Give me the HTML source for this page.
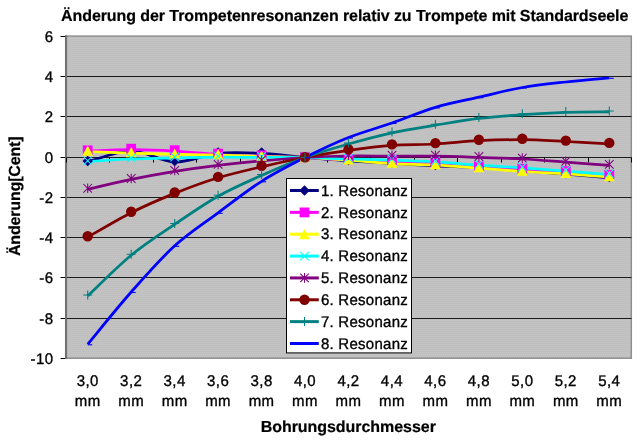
<!DOCTYPE html>
<html lang="de"><head><meta charset="utf-8"><title>Änderung der Trompetenresonanzen</title>
<style>
html,body{margin:0;padding:0;background:#fff;}
body{width:643px;height:440px;overflow:hidden;}
svg{display:block;}
text{font-family:"Liberation Sans",Arial,sans-serif;fill:#000;text-rendering:geometricPrecision;}
.t{font-size:15.4px;stroke:#000;stroke-width:0.35px;letter-spacing:0.45px;}
.b{font-size:16px;font-weight:bold;stroke:#000;stroke-width:0.2px;}
</style></head><body>
<svg width="643" height="440" viewBox="0 0 643 440">
<defs><pattern id="dz" width="2" height="4" patternUnits="userSpaceOnUse"><rect width="2" height="4" fill="#bfbfbf"/><rect x="0" y="0" width="1" height="1" fill="#c6c6c6"/><rect x="1" y="2" width="1" height="1" fill="#c6c6c6"/></pattern></defs>
<rect width="643" height="440" fill="#fff"/>
<rect x="65.7" y="36.1" width="565.6" height="322.1" fill="url(#dz)" stroke="#8e8e8e" stroke-width="1.5"/>
<line x1="60.5" y1="358.5" x2="66" y2="358.5" stroke="#000" stroke-width="1"/>
<text transform="translate(53.60,363.80) scale(0.975,1)" text-anchor="end" class="t">-10</text>
<line x1="66" y1="318.5" x2="631.5" y2="318.5" stroke="#1c1c1c" stroke-width="1"/>
<line x1="60.5" y1="318.5" x2="66" y2="318.5" stroke="#000" stroke-width="1"/>
<text transform="translate(53.60,323.80) scale(0.975,1)" text-anchor="end" class="t">-8</text>
<line x1="66" y1="277.5" x2="631.5" y2="277.5" stroke="#1c1c1c" stroke-width="1"/>
<line x1="60.5" y1="277.5" x2="66" y2="277.5" stroke="#000" stroke-width="1"/>
<text transform="translate(53.60,282.80) scale(0.975,1)" text-anchor="end" class="t">-6</text>
<line x1="66" y1="237.5" x2="631.5" y2="237.5" stroke="#1c1c1c" stroke-width="1"/>
<line x1="60.5" y1="237.5" x2="66" y2="237.5" stroke="#000" stroke-width="1"/>
<text transform="translate(53.60,242.80) scale(0.975,1)" text-anchor="end" class="t">-4</text>
<line x1="66" y1="197.5" x2="631.5" y2="197.5" stroke="#1c1c1c" stroke-width="1"/>
<line x1="60.5" y1="197.5" x2="66" y2="197.5" stroke="#000" stroke-width="1"/>
<text transform="translate(53.60,202.80) scale(0.975,1)" text-anchor="end" class="t">-2</text>
<line x1="66" y1="157.5" x2="631.5" y2="157.5" stroke="#1c1c1c" stroke-width="1"/>
<line x1="60.5" y1="157.5" x2="66" y2="157.5" stroke="#000" stroke-width="1"/>
<text transform="translate(53.60,162.80) scale(0.975,1)" text-anchor="end" class="t">0</text>
<line x1="66" y1="116.5" x2="631.5" y2="116.5" stroke="#1c1c1c" stroke-width="1"/>
<line x1="60.5" y1="116.5" x2="66" y2="116.5" stroke="#000" stroke-width="1"/>
<text transform="translate(53.60,121.80) scale(0.975,1)" text-anchor="end" class="t">2</text>
<line x1="66" y1="76.5" x2="631.5" y2="76.5" stroke="#1c1c1c" stroke-width="1"/>
<line x1="60.5" y1="76.5" x2="66" y2="76.5" stroke="#000" stroke-width="1"/>
<text transform="translate(53.60,81.80) scale(0.975,1)" text-anchor="end" class="t">4</text>
<line x1="60.5" y1="36.5" x2="66" y2="36.5" stroke="#000" stroke-width="1"/>
<text transform="translate(53.60,41.80) scale(0.975,1)" text-anchor="end" class="t">6</text>
<line x1="66.1" y1="35.3" x2="66.1" y2="358.9" stroke="#707070" stroke-width="2"/>
<line x1="66.5" y1="157.5" x2="66.5" y2="162.5" stroke="#000" stroke-width="1"/>
<line x1="109.5" y1="157.5" x2="109.5" y2="162.5" stroke="#000" stroke-width="1"/>
<line x1="153.5" y1="157.5" x2="153.5" y2="162.5" stroke="#000" stroke-width="1"/>
<line x1="196.5" y1="157.5" x2="196.5" y2="162.5" stroke="#000" stroke-width="1"/>
<line x1="240.5" y1="157.5" x2="240.5" y2="162.5" stroke="#000" stroke-width="1"/>
<line x1="283.5" y1="157.5" x2="283.5" y2="162.5" stroke="#000" stroke-width="1"/>
<line x1="327.5" y1="157.5" x2="327.5" y2="162.5" stroke="#000" stroke-width="1"/>
<line x1="370.5" y1="157.5" x2="370.5" y2="162.5" stroke="#000" stroke-width="1"/>
<line x1="414.5" y1="157.5" x2="414.5" y2="162.5" stroke="#000" stroke-width="1"/>
<line x1="457.5" y1="157.5" x2="457.5" y2="162.5" stroke="#000" stroke-width="1"/>
<line x1="501.5" y1="157.5" x2="501.5" y2="162.5" stroke="#000" stroke-width="1"/>
<line x1="544.5" y1="157.5" x2="544.5" y2="162.5" stroke="#000" stroke-width="1"/>
<line x1="588.5" y1="157.5" x2="588.5" y2="162.5" stroke="#000" stroke-width="1"/>
<line x1="631.5" y1="157.5" x2="631.5" y2="162.5" stroke="#000" stroke-width="1"/>
<path d="M87.7,161.9 C95.0,160.1 116.7,150.8 131.2,150.8 C145.7,150.8 160.2,161.5 174.7,161.9 C189.1,162.3 203.6,154.8 218.1,153.4 C232.6,152.0 247.1,152.7 261.6,153.4 C276.1,154.1 290.6,156.2 305.0,157.5 C319.5,158.8 334.0,159.9 348.5,160.9 C363.0,161.9 377.5,162.7 392.0,163.5 C406.4,164.3 420.9,165.2 435.4,165.9 C449.9,166.6 464.4,166.9 478.9,167.7 C493.4,168.5 507.9,169.8 522.3,170.9 C536.8,172.0 551.3,172.9 565.8,174.1 C580.3,175.3 602.0,177.3 609.3,177.9" fill="none" stroke="#000080" stroke-width="2.75" stroke-linejoin="round"/>
<path d="M87.7,151.2 C95.0,150.9 116.7,149.7 131.2,149.7 C145.7,149.6 160.2,150.3 174.7,151.2 C189.1,152.0 203.6,153.6 218.1,154.5 C232.6,155.4 247.1,155.8 261.6,156.3 C276.1,156.8 290.6,156.9 305.0,157.5 C319.5,158.1 334.0,159.5 348.5,160.1 C363.0,160.7 377.5,160.5 392.0,161.1 C406.4,161.7 420.9,162.4 435.4,163.4 C449.9,164.4 464.4,166.3 478.9,167.3 C493.4,168.3 507.9,168.7 522.3,169.5 C536.8,170.3 551.3,171.0 565.8,172.0 C580.3,173.0 602.0,175.1 609.3,175.7" fill="none" stroke="#ff00ff" stroke-width="2.75" stroke-linejoin="round"/>
<path d="M87.7,151.5 C95.0,151.8 116.7,152.6 131.2,153.1 C145.7,153.6 160.2,154.1 174.7,154.4 C189.1,154.7 203.6,154.8 218.1,155.1 C232.6,155.4 247.1,156.1 261.6,156.5 C276.1,156.9 290.6,156.9 305.0,157.5 C319.5,158.1 334.0,159.2 348.5,160.2 C363.0,161.2 377.5,162.8 392.0,163.6 C406.4,164.4 420.9,164.3 435.4,165.1 C449.9,165.8 464.4,167.0 478.9,168.1 C493.4,169.2 507.9,170.5 522.3,171.5 C536.8,172.5 551.3,173.0 565.8,173.9 C580.3,174.8 602.0,176.6 609.3,177.1" fill="none" stroke="#ffff00" stroke-width="2.75" stroke-linejoin="round"/>
<path d="M87.7,161.7 C95.0,161.2 116.7,159.6 131.2,159.0 C145.7,158.4 160.2,158.2 174.7,157.9 C189.1,157.6 203.6,157.2 218.1,157.1 C232.6,157.0 247.1,157.3 261.6,157.4 C276.1,157.5 290.6,157.2 305.0,157.5 C319.5,157.8 334.0,158.6 348.5,159.0 C363.0,159.4 377.5,159.6 392.0,160.1 C406.4,160.6 420.9,161.1 435.4,161.9 C449.9,162.7 464.4,164.1 478.9,165.1 C493.4,166.1 507.9,166.9 522.3,167.9 C536.8,168.9 551.3,170.0 565.8,171.1 C580.3,172.2 602.0,174.0 609.3,174.6" fill="none" stroke="#00ffff" stroke-width="2.75" stroke-linejoin="round"/>
<path d="M87.7,189.2 C95.0,187.6 116.7,182.4 131.2,179.4 C145.7,176.4 160.2,173.7 174.7,171.3 C189.1,169.0 203.6,167.0 218.1,165.3 C232.6,163.6 247.1,162.2 261.6,160.9 C276.1,159.6 290.6,158.3 305.0,157.5 C319.5,156.7 334.0,156.2 348.5,156.0 C363.0,155.8 377.5,156.1 392.0,156.1 C406.4,156.1 420.9,155.9 435.4,156.1 C449.9,156.3 464.4,156.9 478.9,157.4 C493.4,157.9 507.9,158.2 522.3,159.0 C536.8,159.8 551.3,161.1 565.8,162.2 C580.3,163.2 602.0,164.8 609.3,165.3" fill="none" stroke="#800080" stroke-width="2.75" stroke-linejoin="round"/>
<path d="M87.7,237.2 C95.0,233.1 116.7,219.9 131.2,212.7 C145.7,205.4 160.2,199.2 174.7,193.4 C189.1,187.6 203.6,182.2 218.1,177.8 C232.6,173.4 247.1,170.2 261.6,166.8 C276.1,163.4 290.6,160.2 305.0,157.5 C319.5,154.8 334.0,152.3 348.5,150.3 C363.0,148.3 377.5,146.4 392.0,145.3 C406.4,144.2 420.9,144.8 435.4,144.0 C449.9,143.2 464.4,141.4 478.9,140.7 C493.4,140.0 507.9,139.6 522.3,139.7 C536.8,139.8 551.3,140.8 565.8,141.5 C580.3,142.2 602.0,143.4 609.3,143.8" fill="none" stroke="#800000" stroke-width="2.75" stroke-linejoin="round"/>
<path d="M87.7,295.9 C95.0,289.1 116.7,267.1 131.2,255.2 C145.7,243.3 160.2,234.1 174.7,224.3 C189.1,214.5 203.6,204.4 218.1,196.2 C232.6,188.1 247.1,181.9 261.6,175.4 C276.1,168.9 290.6,162.7 305.0,157.5 C319.5,152.3 334.0,148.1 348.5,144.0 C363.0,139.9 377.5,135.9 392.0,132.8 C406.4,129.7 420.9,127.6 435.4,125.2 C449.9,122.8 464.4,120.2 478.9,118.4 C493.4,116.6 507.9,115.7 522.3,114.7 C536.8,113.7 551.3,112.9 565.8,112.4 C580.3,111.9 602.0,112.0 609.3,111.9" fill="none" stroke="#008080" stroke-width="2.75" stroke-linejoin="round"/>
<path d="M87.7,344.2 C95.0,335.5 116.7,308.4 131.2,292.0 C145.7,275.6 160.2,259.0 174.7,245.8 C189.1,232.6 203.6,223.6 218.1,212.8 C232.6,202.1 247.1,190.5 261.6,181.3 C276.1,172.1 290.6,164.8 305.0,157.5 C319.5,150.2 334.0,143.2 348.5,137.5 C363.0,131.8 377.5,128.0 392.0,123.0 C406.4,118.0 420.9,111.7 435.4,107.4 C449.9,103.1 464.4,100.5 478.9,97.2 C493.4,93.9 507.9,90.0 522.3,87.5 C536.8,85.0 551.3,83.6 565.8,82.0 C580.3,80.4 602.0,78.5 609.3,77.8" fill="none" stroke="#0000ff" stroke-width="2.75" stroke-linejoin="round"/>
<path d="M82.5,161.0 L87.7,155.8 L92.9,161.0 L87.7,166.2Z" fill="#000080"/>
<path d="M126.0,149.9 L131.2,144.7 L136.4,149.9 L131.2,155.1Z" fill="#000080"/>
<path d="M169.5,161.0 L174.7,155.8 L179.9,161.0 L174.7,166.2Z" fill="#000080"/>
<path d="M212.9,152.5 L218.1,147.3 L223.3,152.5 L218.1,157.7Z" fill="#000080"/>
<path d="M256.4,152.5 L261.6,147.3 L266.8,152.5 L261.6,157.7Z" fill="#000080"/>
<path d="M299.8,157.2 L305.0,152.0 L310.2,157.2 L305.0,162.4Z" fill="#000080"/>
<path d="M343.3,160.0 L348.5,154.8 L353.7,160.0 L348.5,165.2Z" fill="#000080"/>
<path d="M386.8,162.6 L392.0,157.4 L397.2,162.6 L392.0,167.8Z" fill="#000080"/>
<path d="M430.2,165.0 L435.4,159.8 L440.6,165.0 L435.4,170.2Z" fill="#000080"/>
<path d="M473.7,166.8 L478.9,161.6 L484.1,166.8 L478.9,172.0Z" fill="#000080"/>
<path d="M517.1,170.0 L522.3,164.8 L527.5,170.0 L522.3,175.2Z" fill="#000080"/>
<path d="M560.6,173.2 L565.8,168.0 L571.0,173.2 L565.8,178.4Z" fill="#000080"/>
<path d="M604.1,177.0 L609.3,171.8 L614.5,177.0 L609.3,182.2Z" fill="#000080"/>
<rect x="82.8" y="145.4" width="9.8" height="9.8" fill="#ff00ff"/>
<rect x="126.3" y="143.8" width="9.8" height="9.8" fill="#ff00ff"/>
<rect x="169.8" y="145.3" width="9.8" height="9.8" fill="#ff00ff"/>
<rect x="213.2" y="148.7" width="9.8" height="9.8" fill="#ff00ff"/>
<rect x="256.7" y="150.5" width="9.8" height="9.8" fill="#ff00ff"/>
<rect x="300.1" y="152.3" width="9.8" height="9.8" fill="#ff00ff"/>
<rect x="343.6" y="154.3" width="9.8" height="9.8" fill="#ff00ff"/>
<rect x="387.1" y="155.3" width="9.8" height="9.8" fill="#ff00ff"/>
<rect x="430.5" y="157.6" width="9.8" height="9.8" fill="#ff00ff"/>
<rect x="474.0" y="161.5" width="9.8" height="9.8" fill="#ff00ff"/>
<rect x="517.4" y="163.7" width="9.8" height="9.8" fill="#ff00ff"/>
<rect x="560.9" y="166.2" width="9.8" height="9.8" fill="#ff00ff"/>
<rect x="604.4" y="169.9" width="9.8" height="9.8" fill="#ff00ff"/>
<path d="M87.7,145.5 L93.1,155.7 L82.3,155.7Z" fill="#ffff00"/>
<path d="M131.2,147.1 L136.6,157.3 L125.8,157.3Z" fill="#ffff00"/>
<path d="M174.7,148.4 L180.1,158.6 L169.3,158.6Z" fill="#ffff00"/>
<path d="M218.1,149.1 L223.5,159.3 L212.7,159.3Z" fill="#ffff00"/>
<path d="M261.6,150.5 L267.0,160.7 L256.2,160.7Z" fill="#ffff00"/>
<path d="M305.0,152.1 L310.4,162.3 L299.6,162.3Z" fill="#ffff00"/>
<path d="M348.5,154.2 L353.9,164.4 L343.1,164.4Z" fill="#ffff00"/>
<path d="M392.0,157.6 L397.4,167.8 L386.6,167.8Z" fill="#ffff00"/>
<path d="M435.4,159.1 L440.8,169.3 L430.0,169.3Z" fill="#ffff00"/>
<path d="M478.9,162.1 L484.3,172.3 L473.5,172.3Z" fill="#ffff00"/>
<path d="M522.3,165.5 L527.7,175.7 L516.9,175.7Z" fill="#ffff00"/>
<path d="M565.8,167.9 L571.2,178.1 L560.4,178.1Z" fill="#ffff00"/>
<path d="M609.3,171.1 L614.7,181.3 L603.9,181.3Z" fill="#ffff00"/>
<path d="M83.4,156.5 L92.0,165.1 M83.4,165.1 L92.0,156.5" stroke="#00ffff" stroke-width="1.05" fill="none"/>
<path d="M126.9,153.8 L135.5,162.4 M126.9,162.4 L135.5,153.8" stroke="#00ffff" stroke-width="1.05" fill="none"/>
<path d="M170.4,152.7 L179.0,161.3 M170.4,161.3 L179.0,152.7" stroke="#00ffff" stroke-width="1.05" fill="none"/>
<path d="M213.8,151.9 L222.4,160.5 M213.8,160.5 L222.4,151.9" stroke="#00ffff" stroke-width="1.05" fill="none"/>
<path d="M257.3,152.2 L265.9,160.8 M257.3,160.8 L265.9,152.2" stroke="#00ffff" stroke-width="1.05" fill="none"/>
<path d="M300.7,152.9 L309.3,161.5 M300.7,161.5 L309.3,152.9" stroke="#00ffff" stroke-width="1.05" fill="none"/>
<path d="M344.2,153.8 L352.8,162.4 M344.2,162.4 L352.8,153.8" stroke="#00ffff" stroke-width="1.05" fill="none"/>
<path d="M387.7,154.9 L396.3,163.5 M387.7,163.5 L396.3,154.9" stroke="#00ffff" stroke-width="1.05" fill="none"/>
<path d="M431.1,156.7 L439.7,165.3 M431.1,165.3 L439.7,156.7" stroke="#00ffff" stroke-width="1.05" fill="none"/>
<path d="M474.6,159.9 L483.2,168.5 M474.6,168.5 L483.2,159.9" stroke="#00ffff" stroke-width="1.05" fill="none"/>
<path d="M518.0,162.7 L526.6,171.3 M518.0,171.3 L526.6,162.7" stroke="#00ffff" stroke-width="1.05" fill="none"/>
<path d="M561.5,165.9 L570.1,174.5 M561.5,174.5 L570.1,165.9" stroke="#00ffff" stroke-width="1.05" fill="none"/>
<path d="M605.0,169.4 L613.6,178.0 M605.0,178.0 L613.6,169.4" stroke="#00ffff" stroke-width="1.05" fill="none"/>
<path d="M83.4,184.0 L92.0,192.6 M83.4,192.6 L92.0,184.0 M87.7,183.5 L87.7,193.1" stroke="#800080" stroke-width="1.05" fill="none"/>
<path d="M126.9,174.2 L135.5,182.8 M126.9,182.8 L135.5,174.2 M131.2,173.7 L131.2,183.3" stroke="#800080" stroke-width="1.05" fill="none"/>
<path d="M170.4,166.1 L179.0,174.7 M170.4,174.7 L179.0,166.1 M174.7,165.6 L174.7,175.2" stroke="#800080" stroke-width="1.05" fill="none"/>
<path d="M213.8,160.1 L222.4,168.7 M213.8,168.7 L222.4,160.1 M218.1,159.6 L218.1,169.2" stroke="#800080" stroke-width="1.05" fill="none"/>
<path d="M257.3,155.7 L265.9,164.3 M257.3,164.3 L265.9,155.7 M261.6,155.2 L261.6,164.8" stroke="#800080" stroke-width="1.05" fill="none"/>
<path d="M300.7,152.9 L309.3,161.5 M300.7,161.5 L309.3,152.9 M305.0,152.4 L305.0,162.0" stroke="#800080" stroke-width="1.05" fill="none"/>
<path d="M344.2,150.8 L352.8,159.4 M344.2,159.4 L352.8,150.8 M348.5,150.3 L348.5,159.9" stroke="#800080" stroke-width="1.05" fill="none"/>
<path d="M387.7,150.9 L396.3,159.5 M387.7,159.5 L396.3,150.9 M392.0,150.4 L392.0,160.0" stroke="#800080" stroke-width="1.05" fill="none"/>
<path d="M431.1,150.9 L439.7,159.5 M431.1,159.5 L439.7,150.9 M435.4,150.4 L435.4,160.0" stroke="#800080" stroke-width="1.05" fill="none"/>
<path d="M474.6,152.2 L483.2,160.8 M474.6,160.8 L483.2,152.2 M478.9,151.7 L478.9,161.3" stroke="#800080" stroke-width="1.05" fill="none"/>
<path d="M518.0,153.8 L526.6,162.4 M518.0,162.4 L526.6,153.8 M522.3,153.3 L522.3,162.9" stroke="#800080" stroke-width="1.05" fill="none"/>
<path d="M561.5,156.9 L570.1,165.6 M561.5,165.6 L570.1,156.9 M565.8,156.4 L565.8,166.1" stroke="#800080" stroke-width="1.05" fill="none"/>
<path d="M605.0,160.1 L613.6,168.7 M605.0,168.7 L613.6,160.1 M609.3,159.6 L609.3,169.2" stroke="#800080" stroke-width="1.05" fill="none"/>
<circle cx="87.7" cy="236.2" r="5.2" fill="#800000"/>
<circle cx="131.2" cy="211.8" r="5.2" fill="#800000"/>
<circle cx="174.7" cy="192.5" r="5.2" fill="#800000"/>
<circle cx="218.1" cy="176.9" r="5.2" fill="#800000"/>
<circle cx="261.6" cy="165.9" r="5.2" fill="#800000"/>
<circle cx="305.0" cy="157.2" r="5.2" fill="#800000"/>
<circle cx="348.5" cy="149.4" r="5.2" fill="#800000"/>
<circle cx="392.0" cy="144.4" r="5.2" fill="#800000"/>
<circle cx="435.4" cy="143.1" r="5.2" fill="#800000"/>
<circle cx="478.9" cy="139.8" r="5.2" fill="#800000"/>
<circle cx="522.3" cy="138.8" r="5.2" fill="#800000"/>
<circle cx="565.8" cy="140.6" r="5.2" fill="#800000"/>
<circle cx="609.3" cy="142.9" r="5.2" fill="#800000"/>
<path d="M87.7,290.5 L87.7,299.5 M83.2,295.0 L92.2,295.0" stroke="#008080" stroke-width="1.05" fill="none"/>
<path d="M131.2,249.8 L131.2,258.8 M126.7,254.3 L135.7,254.3" stroke="#008080" stroke-width="1.05" fill="none"/>
<path d="M174.7,218.9 L174.7,227.9 M170.2,223.4 L179.2,223.4" stroke="#008080" stroke-width="1.05" fill="none"/>
<path d="M218.1,190.8 L218.1,199.8 M213.6,195.3 L222.6,195.3" stroke="#008080" stroke-width="1.05" fill="none"/>
<path d="M261.6,170.0 L261.6,179.0 M257.1,174.5 L266.1,174.5" stroke="#008080" stroke-width="1.05" fill="none"/>
<path d="M305.0,152.7 L305.0,161.7 M300.5,157.2 L309.5,157.2" stroke="#008080" stroke-width="1.05" fill="none"/>
<path d="M348.5,138.6 L348.5,147.6 M344.0,143.1 L353.0,143.1" stroke="#008080" stroke-width="1.05" fill="none"/>
<path d="M392.0,127.4 L392.0,136.4 M387.5,131.9 L396.5,131.9" stroke="#008080" stroke-width="1.05" fill="none"/>
<path d="M435.4,119.8 L435.4,128.8 M430.9,124.3 L439.9,124.3" stroke="#008080" stroke-width="1.05" fill="none"/>
<path d="M478.9,113.0 L478.9,122.0 M474.4,117.5 L483.4,117.5" stroke="#008080" stroke-width="1.05" fill="none"/>
<path d="M522.3,109.2 L522.3,118.2 M517.8,113.8 L526.8,113.8" stroke="#008080" stroke-width="1.05" fill="none"/>
<path d="M565.8,107.0 L565.8,116.0 M561.3,111.5 L570.3,111.5" stroke="#008080" stroke-width="1.05" fill="none"/>
<path d="M609.3,106.5 L609.3,115.5 M604.8,111.0 L613.8,111.0" stroke="#008080" stroke-width="1.05" fill="none"/>
<path d="M87.7,344.8 L92.2,344.8" stroke="#0000ff" stroke-width="1.1" fill="none"/>
<path d="M131.2,292.5 L135.7,292.5" stroke="#0000ff" stroke-width="1.1" fill="none"/>
<path d="M174.7,246.3 L179.2,246.3" stroke="#0000ff" stroke-width="1.1" fill="none"/>
<path d="M218.1,213.3 L222.6,213.3" stroke="#0000ff" stroke-width="1.1" fill="none"/>
<path d="M261.6,181.8 L266.1,181.8" stroke="#0000ff" stroke-width="1.1" fill="none"/>
<path d="M305.0,157.7 L309.5,157.7" stroke="#0000ff" stroke-width="1.1" fill="none"/>
<path d="M348.5,138.0 L353.0,138.0" stroke="#0000ff" stroke-width="1.1" fill="none"/>
<path d="M392.0,123.5 L396.5,123.5" stroke="#0000ff" stroke-width="1.1" fill="none"/>
<path d="M435.4,107.9 L439.9,107.9" stroke="#0000ff" stroke-width="1.1" fill="none"/>
<path d="M478.9,97.7 L483.4,97.7" stroke="#0000ff" stroke-width="1.1" fill="none"/>
<path d="M522.3,88.0 L526.8,88.0" stroke="#0000ff" stroke-width="1.1" fill="none"/>
<path d="M565.8,82.5 L570.3,82.5" stroke="#0000ff" stroke-width="1.1" fill="none"/>
<path d="M609.3,78.3 L613.8,78.3" stroke="#0000ff" stroke-width="1.1" fill="none"/>
<text transform="translate(87.73,386.30) scale(0.975,1)" text-anchor="middle" class="t">3,0</text>
<text transform="translate(87.73,405.80) scale(0.975,1)" text-anchor="middle" class="t">mm</text>
<text transform="translate(131.19,386.30) scale(0.975,1)" text-anchor="middle" class="t">3,2</text>
<text transform="translate(131.19,405.80) scale(0.975,1)" text-anchor="middle" class="t">mm</text>
<text transform="translate(174.65,386.30) scale(0.975,1)" text-anchor="middle" class="t">3,4</text>
<text transform="translate(174.65,405.80) scale(0.975,1)" text-anchor="middle" class="t">mm</text>
<text transform="translate(218.12,386.30) scale(0.975,1)" text-anchor="middle" class="t">3,6</text>
<text transform="translate(218.12,405.80) scale(0.975,1)" text-anchor="middle" class="t">mm</text>
<text transform="translate(261.58,386.30) scale(0.975,1)" text-anchor="middle" class="t">3,8</text>
<text transform="translate(261.58,405.80) scale(0.975,1)" text-anchor="middle" class="t">mm</text>
<text transform="translate(305.04,386.30) scale(0.975,1)" text-anchor="middle" class="t">4,0</text>
<text transform="translate(305.04,405.80) scale(0.975,1)" text-anchor="middle" class="t">mm</text>
<text transform="translate(348.50,386.30) scale(0.975,1)" text-anchor="middle" class="t">4,2</text>
<text transform="translate(348.50,405.80) scale(0.975,1)" text-anchor="middle" class="t">mm</text>
<text transform="translate(391.96,386.30) scale(0.975,1)" text-anchor="middle" class="t">4,4</text>
<text transform="translate(391.96,405.80) scale(0.975,1)" text-anchor="middle" class="t">mm</text>
<text transform="translate(435.42,386.30) scale(0.975,1)" text-anchor="middle" class="t">4,6</text>
<text transform="translate(435.42,405.80) scale(0.975,1)" text-anchor="middle" class="t">mm</text>
<text transform="translate(478.88,386.30) scale(0.975,1)" text-anchor="middle" class="t">4,8</text>
<text transform="translate(478.88,405.80) scale(0.975,1)" text-anchor="middle" class="t">mm</text>
<text transform="translate(522.35,386.30) scale(0.975,1)" text-anchor="middle" class="t">5,0</text>
<text transform="translate(522.35,405.80) scale(0.975,1)" text-anchor="middle" class="t">mm</text>
<text transform="translate(565.81,386.30) scale(0.975,1)" text-anchor="middle" class="t">5,2</text>
<text transform="translate(565.81,405.80) scale(0.975,1)" text-anchor="middle" class="t">mm</text>
<text transform="translate(609.27,386.30) scale(0.975,1)" text-anchor="middle" class="t">5,4</text>
<text transform="translate(609.27,405.80) scale(0.975,1)" text-anchor="middle" class="t">mm</text>
<rect x="286.5" y="178.5" width="125" height="174.4" fill="#fff" stroke="#000" stroke-width="1"/>
<line x1="290" y1="190.50" x2="318.8" y2="190.50" stroke="#000080" stroke-width="3"/>
<path d="M299.3,190.5 L304.5,185.3 L309.7,190.5 L304.5,195.7Z" fill="#000080"/>
<text transform="translate(320.90,195.70) scale(0.975,1)" text-anchor="start" class="t" style="letter-spacing:0.27px">1. Resonanz</text>
<line x1="290" y1="212.36" x2="318.8" y2="212.36" stroke="#ff00ff" stroke-width="3"/>
<rect x="299.6" y="207.5" width="9.8" height="9.8" fill="#ff00ff"/>
<text transform="translate(320.90,217.56) scale(0.975,1)" text-anchor="start" class="t" style="letter-spacing:0.27px">2. Resonanz</text>
<line x1="290" y1="234.21" x2="318.8" y2="234.21" stroke="#ffff00" stroke-width="3"/>
<path d="M304.5,229.1 L309.9,239.3 L299.1,239.3Z" fill="#ffff00"/>
<text transform="translate(320.90,239.41) scale(0.975,1)" text-anchor="start" class="t" style="letter-spacing:0.27px">3. Resonanz</text>
<line x1="290" y1="256.07" x2="318.8" y2="256.07" stroke="#00ffff" stroke-width="3"/>
<path d="M300.2,251.8 L308.8,260.4 M300.2,260.4 L308.8,251.8" stroke="#00ffff" stroke-width="1.05" fill="none"/>
<text transform="translate(320.90,261.27) scale(0.975,1)" text-anchor="start" class="t" style="letter-spacing:0.27px">4. Resonanz</text>
<line x1="290" y1="277.93" x2="318.8" y2="277.93" stroke="#800080" stroke-width="3"/>
<path d="M300.2,273.6 L308.8,282.2 M300.2,282.2 L308.8,273.6 M304.5,273.1 L304.5,282.7" stroke="#800080" stroke-width="1.05" fill="none"/>
<text transform="translate(320.90,283.13) scale(0.975,1)" text-anchor="start" class="t" style="letter-spacing:0.27px">5. Resonanz</text>
<line x1="290" y1="299.78" x2="318.8" y2="299.78" stroke="#800000" stroke-width="3"/>
<circle cx="304.5" cy="299.8" r="5.2" fill="#800000"/>
<text transform="translate(320.90,304.98) scale(0.975,1)" text-anchor="start" class="t" style="letter-spacing:0.27px">6. Resonanz</text>
<line x1="290" y1="321.64" x2="318.8" y2="321.64" stroke="#008080" stroke-width="3"/>
<path d="M304.5,317.1 L304.5,326.1 M300.0,321.6 L309.0,321.6" stroke="#008080" stroke-width="1.05" fill="none"/>
<text transform="translate(320.90,326.84) scale(0.975,1)" text-anchor="start" class="t" style="letter-spacing:0.27px">7. Resonanz</text>
<line x1="290" y1="343.50" x2="318.8" y2="343.50" stroke="#0000ff" stroke-width="3"/>
<text transform="translate(320.90,348.70) scale(0.975,1)" text-anchor="start" class="t" style="letter-spacing:0.27px">8. Resonanz</text>
<text x="61.0" y="21" textLength="567.3" lengthAdjust="spacing" class="b">Änderung der Trompetenresonanzen relativ zu Trompete mit Standardseele</text>
<text x="260.7" y="431.6" textLength="175.2" lengthAdjust="spacing" class="b">Bohrungsdurchmesser</text>
<text transform="translate(20,256) rotate(-90)" textLength="119.5" lengthAdjust="spacing" class="b">Änderung[Cent]</text>
</svg>
</body></html>
